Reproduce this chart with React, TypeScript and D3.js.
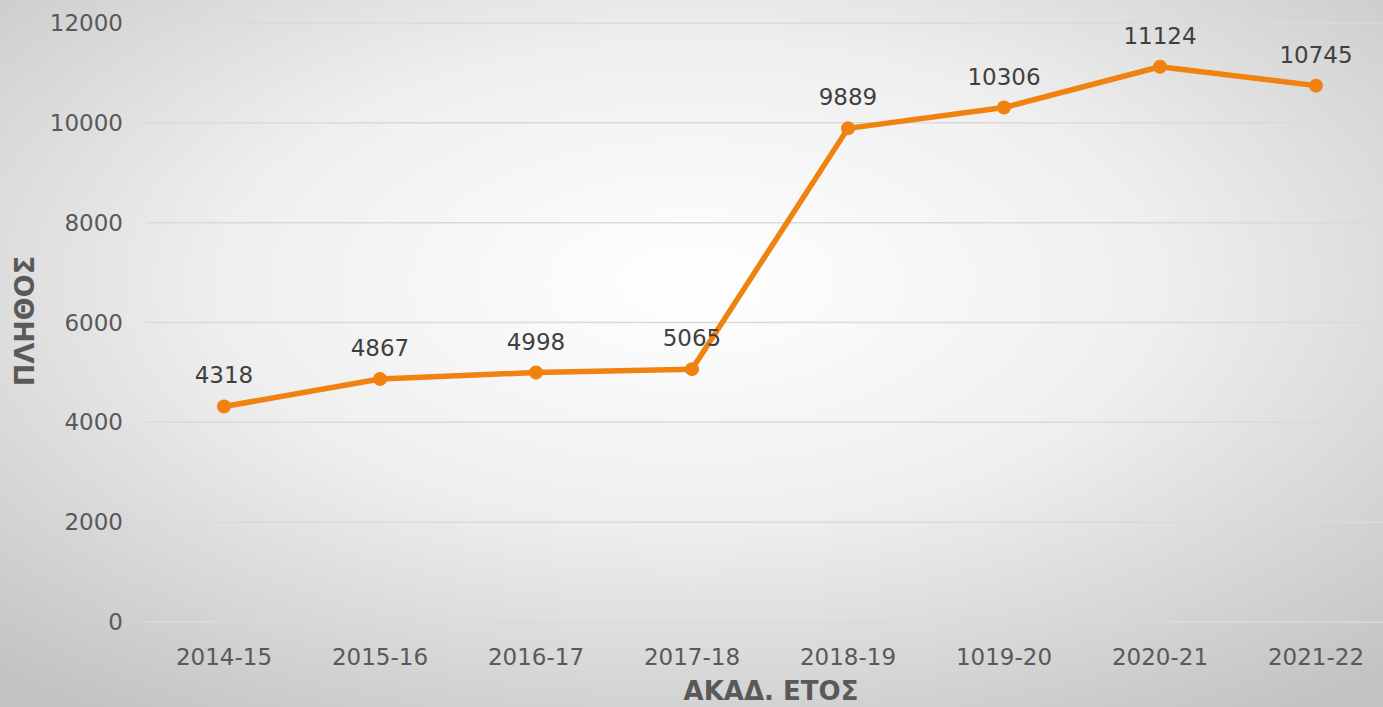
import React from "react";
import * as d3 from "d3";

const categories = ["2014-15", "2015-16", "2016-17", "2017-18", "2018-19", "1019-20", "2020-21", "2021-22"];
const values = [4318, 4867, 4998, 5065, 9889, 10306, 11124, 10745];
const yTicks = [0, 2000, 4000, 6000, 8000, 10000, 12000];
const yTitle = "ΠΛΗΘΟΣ";
const xTitle = "ΑΚΑΔ. ΕΤΟΣ";

const W = 1383;
const H = 707;
const margin = { left: 146, right: -11, top: 23, bottom: 85 };

export default function App() {
  const x = d3
    .scaleBand<string>()
    .domain(categories)
    .range([margin.left, W - margin.right]);
  const y = d3.scaleLinear().domain([0, 12000]).range([H - margin.bottom, margin.top]);
  const cx = (c: string) => (x(c) as number) + x.bandwidth() / 2;
  const line = d3
    .line<number>()
    .x((_, i) => cx(categories[i]))
    .y((d) => y(d));
  const font = "'DejaVu Sans', Verdana, sans-serif";

  return (
    <svg
      width={W}
      height={H}
      style={{ position: "absolute", left: 0, top: 0, display: "block" }}
      fontFamily={font}
    >
      <defs>
        <radialGradient id="bg" cx="50%" cy="40%" r="75%" gradientUnits="objectBoundingBox">
          <stop offset="0%" stopColor="#ffffff" />
          <stop offset="45%" stopColor="#efefef" />
          <stop offset="100%" stopColor="#c2c2c2" />
        </radialGradient>
      </defs>
      <rect x={0} y={0} width={W} height={H} fill="url(#bg)" />
      {yTicks.map((t) => (
        <g key={t}>
          <line x1={margin.left} x2={W} y1={y(t)} y2={y(t)} stroke="#dadada" strokeWidth={1.5} />
          <text x={123} y={y(t)} dy="0.35em" textAnchor="end" fontSize={23} fill="#595959">
            {t}
          </text>
        </g>
      ))}
      {categories.map((c) => (
        <text key={c} x={cx(c)} y={665} textAnchor="middle" fontSize={23} fill="#595959">
          {c}
        </text>
      ))}
      <path d={line(values) || ""} fill="none" stroke="#F0820F" strokeWidth={5.5} strokeLinejoin="round" />
      {values.map((v, i) => (
        <circle key={i} cx={cx(categories[i])} cy={y(v)} r={7} fill="#F0820F" />
      ))}
      {values.map((v, i) => (
        <text
          key={"l" + i}
          x={cx(categories[i])}
          y={y(v) - 23}
          textAnchor="middle"
          fontSize={23}
          fill="#404040"
        >
          {v}
        </text>
      ))}
      <text
        transform={`translate(34, 321) rotate(-90)`}
        textAnchor="middle"
        fontSize={27}
        fontWeight="bold"
        fill="#595959"
      >
        {yTitle}
      </text>
      <text x={771} y={700} textAnchor="middle" fontSize={26} fontWeight="bold" fill="#595959">
        {xTitle}
      </text>
    </svg>
  );
}
